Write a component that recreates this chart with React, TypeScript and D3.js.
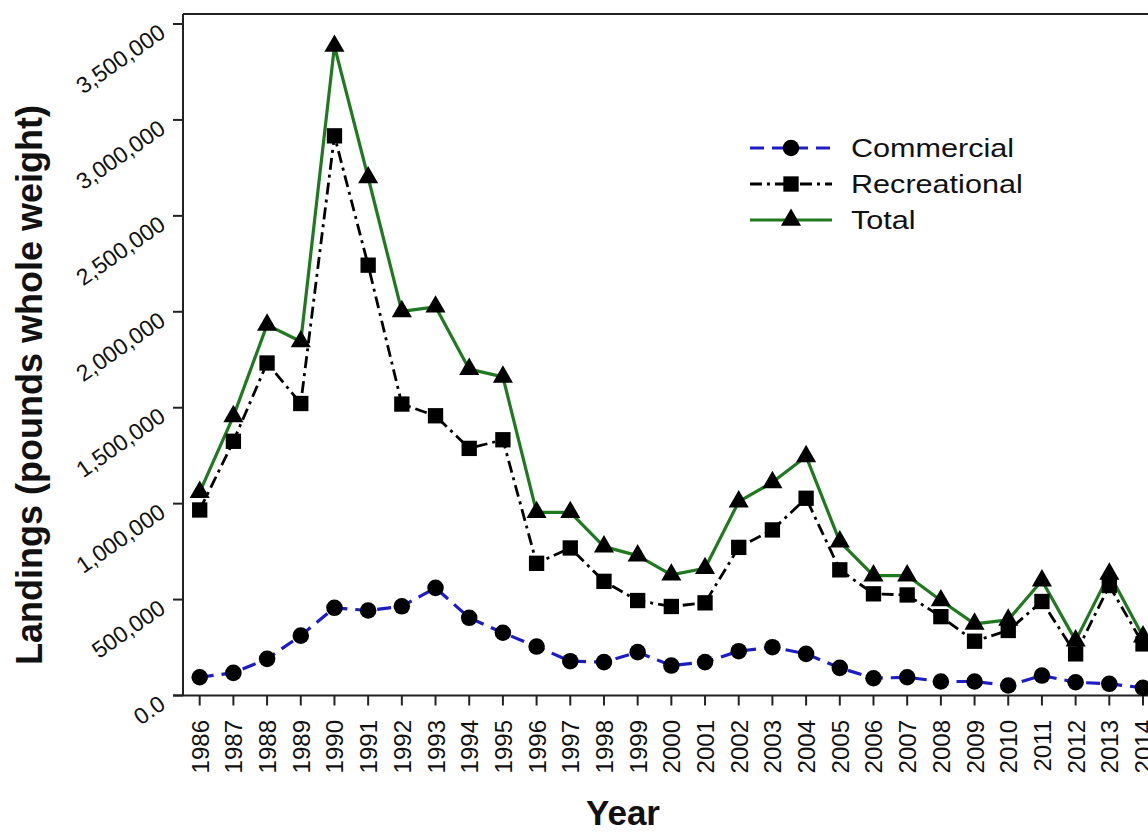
import React from "react";
import * as d3 from "d3";

const years = [1986,1987,1988,1989,1990,1991,1992,1993,1994,1995,1996,1997,1998,1999,2000,2001,2002,2003,2004,2005,2006,2007,2008,2009,2010,2011,2012,2013,2014];
const commercial = [95000,118000,191000,312000,457000,443000,465000,561000,405000,327000,255000,179000,174000,226000,156000,174000,231000,252000,217000,144000,90000,95000,73000,73000,52000,104000,69000,61000,40000];
const recreational = [967000,1325000,1733000,1522000,2917000,2243000,1519000,1458000,1288000,1333000,689000,769000,595000,495000,464000,483000,772000,863000,1028000,655000,530000,524000,411000,283000,339000,490000,217000,573000,269000];
const total = [1060000,1455000,1932000,1845000,3385000,2700000,2002000,2026000,1701000,1661000,955000,955000,776000,729000,629000,663000,1010000,1111000,1246000,802000,625000,625000,495000,373000,394000,599000,286000,634000,307000];
const yTicks = [0,500000,1000000,1500000,2000000,2500000,3000000,3500000];
const yTickLabels = ["0.0","500,000","1,000,000","1,500,000","2,000,000","2,500,000","3,000,000","3,500,000"];
const seriesNames = ["Commercial","Recreational","Total"];

const FONT = "'Liberation Sans', Arial, Helvetica, sans-serif";

export default function App() {
  const x = d3.scaleLinear().domain([1986, 2014]).range([199.7, 1143]);
  const y = d3.scaleLinear().domain([0, 3500000]).range([695.5, 24]);
  const left = 183, top = 14, bottom = 695.5, right = 1165;

  const series = [
    { name: seriesNames[0], values: commercial, color: "#1c1cc8", dash: "14,8", width: 3.2, symbol: d3.symbolCircle, size: 215 },
    { name: seriesNames[1], values: recreational, color: "#000000", dash: "12,5,3,5", width: 2.8, symbol: d3.symbolSquare, size: 235 },
    { name: seriesNames[2], values: total, color: "#1f7a1f", dash: null, width: 3.2, symbol: d3.symbolTriangle, size: 175 },
  ];

  const drawOrder = [2, 1, 0];

  return (
    <svg width={1148} height={832} style={{ position: "absolute", left: 0, top: 0, background: "#fff" }} fontFamily={FONT}>
      <rect x={0} y={0} width={1148} height={832} fill="#fff" />
      {/* frame */}
      <line x1={left} y1={top} x2={right} y2={top} stroke="#222" strokeWidth={2} />
      <line x1={left} y1={top} x2={left} y2={bottom} stroke="#222" strokeWidth={2} />
      <line x1={left - 10} y1={bottom} x2={right} y2={bottom} stroke="#222" strokeWidth={2} />
      {/* y ticks */}
      {yTicks.map((t, i) => (
        <g key={"yt" + i}>
          <line x1={left - 10} x2={left} y1={y(t)} y2={y(t)} stroke="#222" strokeWidth={2} />
          <text transform={`translate(167,${y(t) + 12}) rotate(-35)`} textAnchor="end" fontSize={23} fill="#111">
            {yTickLabels[i]}
          </text>
        </g>
      ))}
      {/* x ticks */}
      {years.map((yr) => (
        <g key={"xt" + yr}>
          <line x1={x(yr)} x2={x(yr)} y1={bottom} y2={bottom + 10} stroke="#222" strokeWidth={2} />
          <text transform={`translate(${x(yr) + 9},720) rotate(-90)`} textAnchor="end" fontSize={24} fill="#111">
            {String(yr)}
          </text>
        </g>
      ))}
      {/* axis titles */}
      <text transform="translate(42,385) rotate(-90)" textAnchor="middle" fontSize={36} fontWeight="bold" fill="#111">
        Landings (pounds whole weight)
      </text>
      <text x={623} y={825} textAnchor="middle" fontSize={35} fontWeight="bold" fill="#111">Year</text>
      {/* lines */}
      {drawOrder.map((si) => {
        const s = series[si];
        const line = d3.line<number>().x((_, i) => x(years[i])).y((v) => y(v));
        return (
          <path key={"l" + si} d={line(s.values) || ""} fill="none" stroke={s.color} strokeWidth={s.width}
            strokeDasharray={s.dash || undefined} strokeLinejoin="round" />
        );
      })}
      {drawOrder.map((si) => {
        const s = series[si];
        const sym = d3.symbol().type(s.symbol).size(s.size)();
        return (
          <g key={"m" + si}>
            {s.values.map((v, i) => (
              <path key={i} d={sym || ""} transform={`translate(${x(years[i])},${y(v)})`} fill="#000" />
            ))}
          </g>
        );
      })}
      {/* legend */}
      {series.map((s, i) => {
        const ly = 148 + i * 36;
        const sym = d3.symbol().type(s.symbol).size(s.size)();
        return (
          <g key={"lg" + i}>
            <line x1={750} x2={832} y1={ly} y2={ly} stroke={s.color} strokeWidth={s.width}
              strokeDasharray={s.dash || undefined} />
            <path d={sym || ""} transform={`translate(791,${ly})`} fill="#000" />
            <text transform={`translate(851,${ly + 9}) scale(1.2,1)`} fontSize={25.5} fill="#111">{s.name}</text>
          </g>
        );
      })}
    </svg>
  );
}
